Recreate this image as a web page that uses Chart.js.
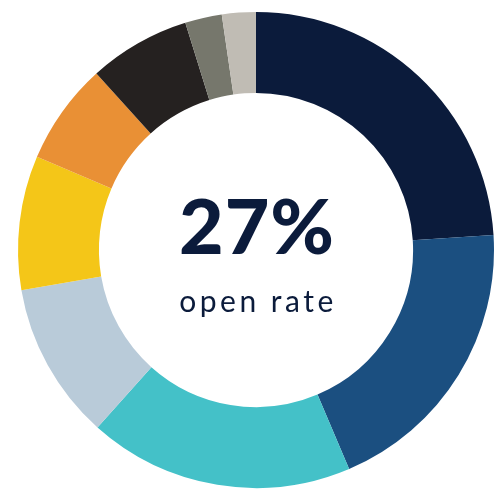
<!DOCTYPE html>
<html>
<head>
<meta charset="utf-8">
<script src="https://cdn.jsdelivr.net/npm/chart.js@4/dist/chart.umd.min.js"></script>
<style>
html,body{margin:0;padding:0;background:#fff;}
#wrap{width:497px;height:490px;position:relative;}
</style>
</head>
<body>
<div id="wrap"><canvas id="c" width="497" height="490"></canvas></div>
<script>
const categories = ["Segment 1","Segment 2","Segment 3","Segment 4","Segment 5","Segment 6","Segment 7","Segment 8","Segment 9"];
const values = [24.0, 19.6, 18.0, 10.7, 9.1, 6.9, 6.9, 2.5, 2.3];
const colors = ["#0b1b3b","#1b4f80","#44c1c8","#b9cbd9","#f4c618","#e99035","#252120","#76776c","#c0bcb4"];
const centerValue = "27%";
const centerLabel = "open rate";

const centerText = {
  id: 'centerText',
  afterDraw(chart) {
    const ctx = chart.ctx;
    const meta = chart.getDatasetMeta(0).data[0];
    const cx = meta.x, cy = meta.y;
    ctx.save();
    ctx.fillStyle = '#0b1b3b';
    ctx.textAlign = 'center';
    ctx.textBaseline = 'alphabetic';
    ctx.font = '900 77px Lato, "Open Sans", sans-serif';
    if ('letterSpacing' in ctx) ctx.letterSpacing = '1px';
    ctx.fillText(centerValue, cx + 1, cy + 4);
    ctx.font = '30px Lato, "Open Sans", sans-serif';
    if ('letterSpacing' in ctx) ctx.letterSpacing = '3.5px';
    ctx.fillText(centerLabel, cx + 2, cy + 62);
    ctx.restore();
  }
};

new Chart(document.getElementById('c'), {
  type: 'doughnut',
  data: {
    labels: categories,
    datasets: [{ data: values, backgroundColor: colors, borderWidth: 0 }]
  },
  options: {
    responsive: false,
    animation: false,
    cutout: '66%',
    layout: { padding: { left: 18, right: 3, top: 12, bottom: 2 } },
    plugins: { legend: { display: false }, tooltip: { enabled: false } }
  },
  plugins: [centerText]
});
</script>
</body>
</html>
